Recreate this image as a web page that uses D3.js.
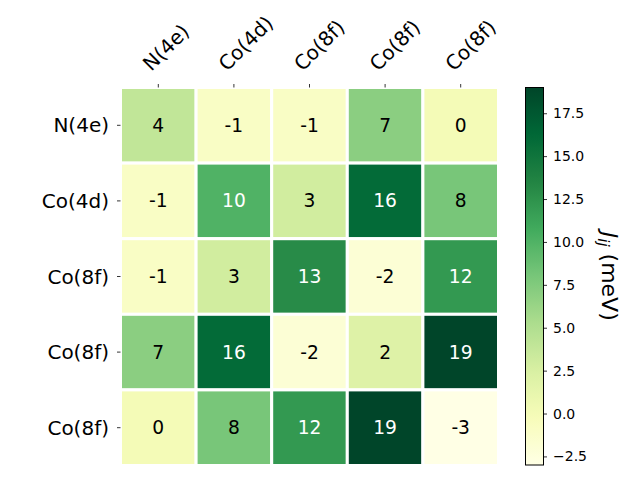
<!DOCTYPE html>
<html>
<head>
<meta charset="utf-8">
<script src="https://cdn.jsdelivr.net/npm/d3@7"></script>
<style>
  html, body { margin: 0; padding: 0; background: #fff; }
  svg { display: block; font-family: "DejaVu Sans", sans-serif; }
</style>
</head>
<body>
<svg id="chart" width="640" height="480"></svg>
<script>
// ---- data ----
const rowLabels = ["N(4e)", "Co(4d)", "Co(8f)", "Co(8f)", "Co(8f)"];
const colLabels = ["N(4e)", "Co(4d)", "Co(8f)", "Co(8f)", "Co(8f)"];
const row0 = [4, -1, -1, 7, 0];
const row1 = [-1, 10, 3, 16, 8];
const row2 = [-1, 3, 13, -2, 12];
const row3 = [7, 16, -2, 2, 19];
const row4 = [0, 8, 12, 19, -3];
const matrix = [row0, row1, row2, row3, row4];
const colorMin = -3, colorMax = 19;
const cbarTicks = [-2.5, 0.0, 2.5, 5.0, 7.5, 10.0, 12.5, 15.0, 17.5];
const ylgn = ["#ffffe5", "#f7fcb9", "#d9f0a3", "#addd8e", "#78c679", "#41ab5d", "#238443", "#006837", "#004529"];

// ---- layout ----
const svg = d3.select("#chart");
const ax = { left: 120.5, top: 87.5, size: 378 };
const cb = { left: 525.5, top: 87.5, width: 18, height: 377.5 };

const x = d3.scaleBand().domain(d3.range(colLabels.length)).range([ax.left, ax.left + ax.size]);
const y = d3.scaleBand().domain(d3.range(rowLabels.length)).range([ax.top, ax.top + ax.size]);

const color = d3.scaleLinear()
  .domain(ylgn.map((_, i) => colorMin + (colorMax - colorMin) * i / (ylgn.length - 1)))
  .range(ylgn)
  .interpolate(d3.interpolateRgb)
  .clamp(true);

const cells = [];
matrix.forEach((row, i) => row.forEach((v, j) => cells.push({ i, j, v })));

// cells
svg.append("g").selectAll("rect").data(cells).join("rect")
  .attr("x", d => x(d.j))
  .attr("y", d => y(d.i))
  .attr("width", x.bandwidth())
  .attr("height", y.bandwidth())
  .attr("fill", d => color(d.v))
  .attr("stroke", "#fff")
  .attr("stroke-width", 3);

// annotations
const threshold = (colorMax - colorMin) / 2 + colorMin;
svg.append("g").selectAll("text").data(cells).join("text")
  .attr("x", d => x(d.j) + x.bandwidth() / 2)
  .attr("y", d => y(d.i) + y.bandwidth() / 2)
  .attr("text-anchor", "middle")
  .attr("dominant-baseline", "central")
  .attr("font-size", "18.67px")
  .attr("fill", d => d.v > threshold ? "#fff" : "#000")
  .text(d => d.v);

// top ticks + labels
const topG = svg.append("g");
topG.selectAll("line").data(colLabels).join("line")
  .attr("x1", (d, j) => x(j) + x.bandwidth() / 2)
  .attr("x2", (d, j) => x(j) + x.bandwidth() / 2)
  .attr("y1", ax.top).attr("y2", ax.top - 3.5)
  .attr("stroke", "#000").attr("stroke-width", 0.8);
topG.selectAll("text").data(colLabels).join("text")
  .attr("transform", (d, j) => `translate(${x(j) + x.bandwidth() / 2 - 7},${ax.top - 15.5}) rotate(-45)`)
  .attr("text-anchor", "start")
  .attr("font-size", "20px")
  .text(d => d);

// left ticks + labels
const leftG = svg.append("g");
leftG.selectAll("line").data(rowLabels).join("line")
  .attr("y1", (d, i) => y(i) + y.bandwidth() / 2)
  .attr("y2", (d, i) => y(i) + y.bandwidth() / 2)
  .attr("x1", ax.left).attr("x2", ax.left - 3.5)
  .attr("stroke", "#000").attr("stroke-width", 0.8);
leftG.selectAll("text").data(rowLabels).join("text")
  .attr("x", ax.left - 11.5)
  .attr("y", (d, i) => y(i) + y.bandwidth() / 2)
  .attr("text-anchor", "end")
  .attr("dominant-baseline", "central")
  .attr("font-size", "20px")
  .text(d => d);

// colorbar
const cbScale = d3.scaleLinear().domain([colorMin, colorMax]).range([cb.top + cb.height, cb.top]);
const defs = svg.append("defs");
const grad = defs.append("linearGradient").attr("id", "cbgrad")
  .attr("x1", 0).attr("y1", 1).attr("x2", 0).attr("y2", 0);
d3.range(0, 1.0001, 0.02).forEach(t => {
  grad.append("stop").attr("offset", t).attr("stop-color", color(colorMin + t * (colorMax - colorMin)));
});
svg.append("rect")
  .attr("x", cb.left).attr("y", cb.top)
  .attr("width", cb.width).attr("height", cb.height)
  .attr("fill", "url(#cbgrad)")
  .attr("stroke", "#000").attr("stroke-width", 1);

const cbAxis = d3.axisRight(cbScale).tickValues(cbarTicks).tickSize(3.5).tickPadding(6)
  .tickFormat(d => d3.format(".1f")(d).replace("-", "\u2212"));
const cbG = svg.append("g").attr("transform", `translate(${cb.left + cb.width},0)`).call(cbAxis);
cbG.select(".domain").remove();
cbG.selectAll("text").attr("font-size", "14px").attr("font-family", "DejaVu Sans, sans-serif").attr("fill", "#000");
cbG.selectAll("line").attr("stroke", "#000").attr("stroke-width", 0.8);

// colorbar label
const lbl = svg.append("text")
  .attr("transform", `translate(602,${cb.top + cb.height / 2}) rotate(90)`)
  .attr("text-anchor", "middle")
  .attr("font-size", "22px");
lbl.append("tspan").attr("font-style", "italic").text("J");
lbl.append("tspan").attr("font-style", "italic").attr("font-size", "15px").attr("dy", "4").text("ij");
lbl.append("tspan").attr("dy", "-4").text(" (meV)");
</script>
</body>
</html>
